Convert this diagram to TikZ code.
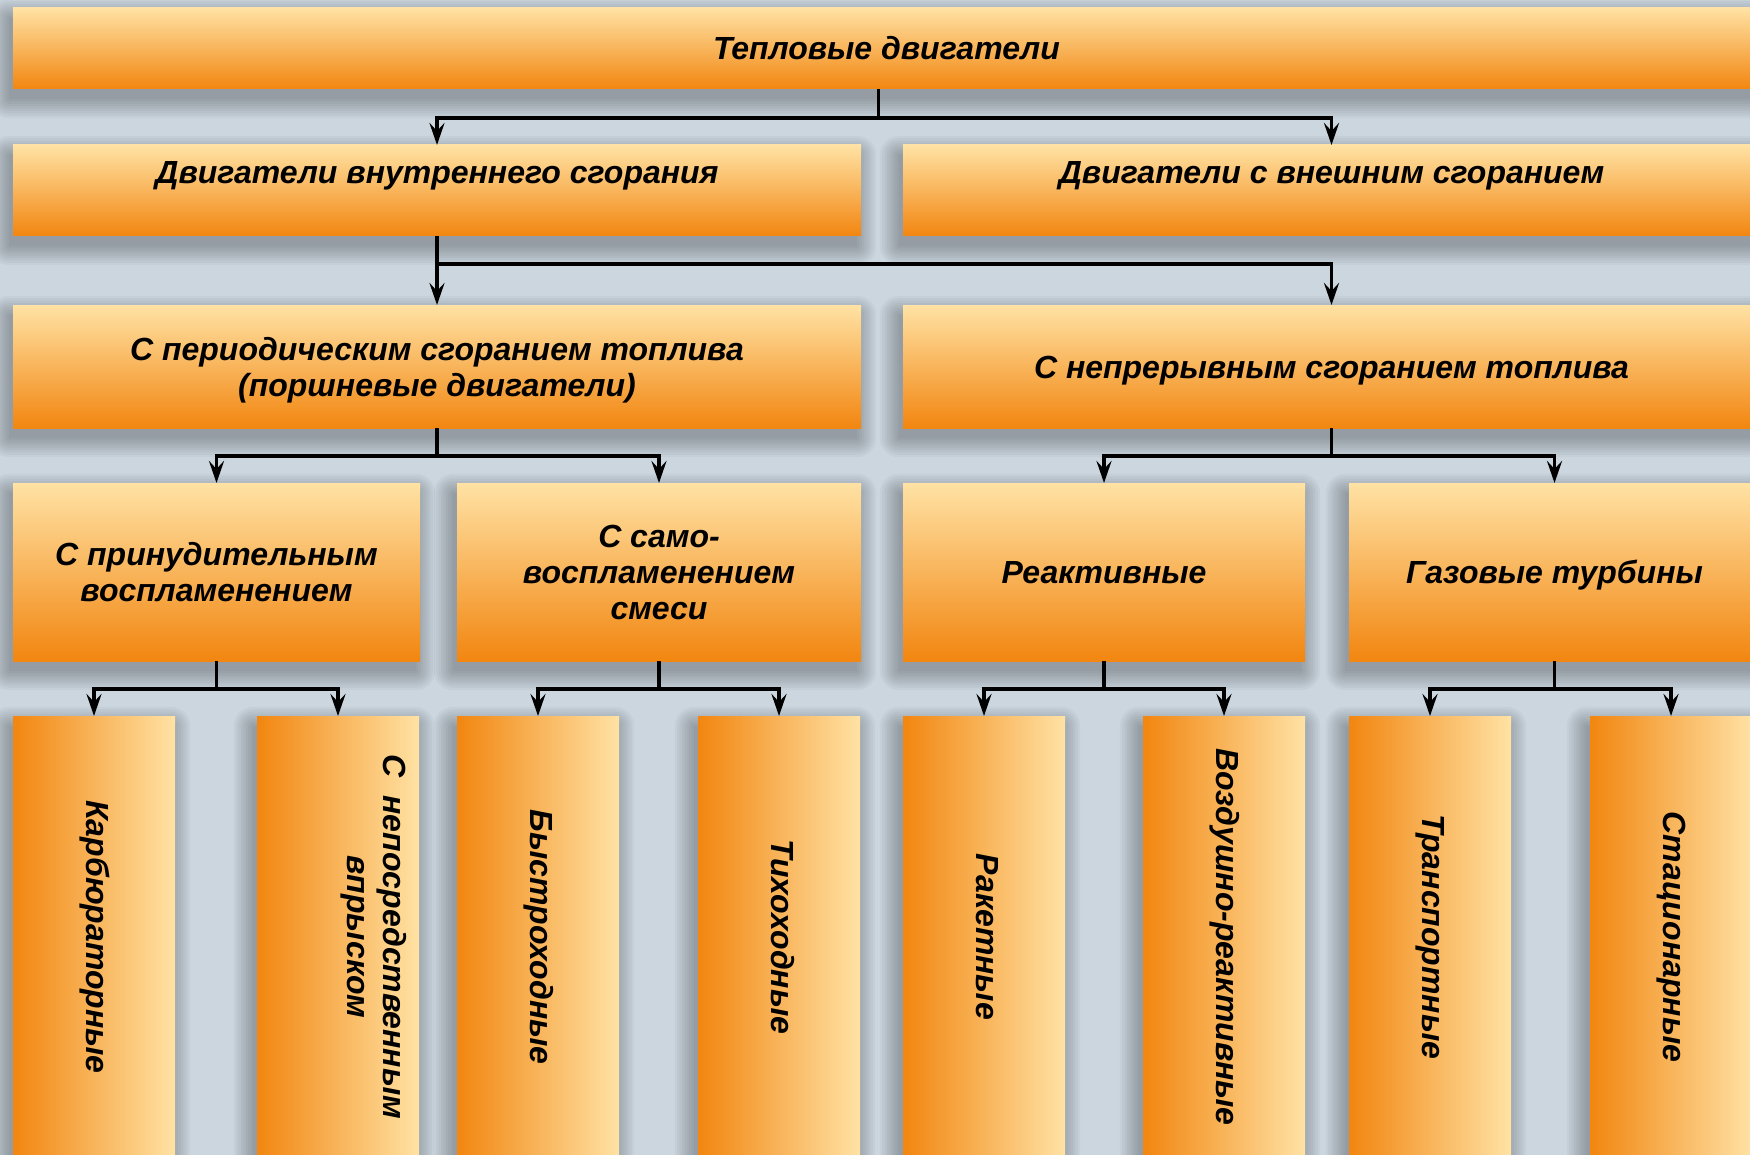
\documentclass[tikz,border=0pt]{standalone}
\usepackage{fontspec}
\usepackage{graphicx}
\setmainfont{Liberation Sans}
\usetikzlibrary{arrows.meta}
\definecolor{bg}{RGB}{203,214,222}
\definecolor{lt}{RGB}{255,226,164}
\definecolor{dk}{RGB}{242,134,16}
\pgfdeclarelayer{shadowlayer}
\pgfsetlayers{shadowlayer,main}
\tikzset{
  box/.style={inner sep=0pt, outer sep=0pt, anchor=north west,
    font=\fontsize{16}{18}\selectfont\bfseries\itshape, align=center},
  hbox/.style={box, top color=lt, bottom color=dk},
  vbox/.style={box, left color=dk, right color=lt, minimum width=81pt, minimum height=221pt},
  conn/.style={line width=1.8pt, black},
  arr/.style={conn, -{Stealth[length=11pt,width=7.5pt,inset=4pt]}},
}
\newcommand{\vtext}[1]{\rotatebox{-90}{\begin{tabular}{@{}c@{}}#1\end{tabular}}}
\newcommand{\lowered}[2]{\raisebox{-#1}[\height][\depth]{\begin{tabular}{@{}c@{}}#2\end{tabular}}}
\begin{document}
\begin{tikzpicture}[x=0.5pt,y=-0.5pt]
\useasboundingbox (0,0) rectangle (1750,1155);
\clip (0,0) rectangle (1750,1155);

% level 1
\node[hbox, minimum width=873.5pt, minimum height=40.5pt] (root) at (13,8) {Тепловые двигатели};
% level 2
\node[hbox, minimum width=424pt, minimum height=45.5pt] (ice) at (13,145) {Двигатели внутреннего сгорания\\\mbox{}};
\node[hbox, minimum width=428.5pt, minimum height=45.5pt] (ece) at (903,145) {Двигатели с внешним сгоранием\\\mbox{}};
% level 3
\node[hbox, minimum width=424pt, minimum height=61.5pt] (per) at (13,305) {\lowered{2.2pt}{С периодическим сгоранием топлива\\(поршневые двигатели)}};
\node[hbox, minimum width=428.5pt, minimum height=61.5pt] (cont) at (903,305) {\lowered{2.4pt}{С непрерывным сгоранием топлива}};
% level 4
\node[hbox, minimum width=203.5pt, minimum height=89pt] (spark) at (13,483) {С принудительным\\воспламенением};
\node[hbox, minimum width=202pt, minimum height=89pt] (self) at (457,483) {С само-\\воспламенением\\смеси};
\node[hbox, minimum width=201pt, minimum height=89pt] (jet) at (903,483) {\lowered{2.3pt}{Реактивные}};
\node[hbox, minimum width=205.5pt, minimum height=89pt] (gt) at (1349,483) {\lowered{2.3pt}{Газовые турбины}};
% level 5
\node[vbox] (carb) at (13,716) {\vtext{Карбюраторные}};
\node[vbox] (inj) at (257,716) {\vtext{С\ \ непосредственным\\впрыском\\[35pt]}};
\node[vbox] (fast) at (457,716) {\vtext{Быстроходные}};
\node[vbox] (slow) at (698,716) {\vtext{Тихоходные}};
\node[vbox] (rock) at (903,716) {\vtext{Ракетные}};
\node[vbox] (air) at (1143,716) {\vtext{Воздушно-реактивные}};
\node[vbox] (trans) at (1349,716) {\vtext{Транспортные}};
\node[vbox] (stat) at (1590,716) {\vtext{Стационарные}};

% background and soft shadows
\begin{pgfonlayer}{shadowlayer}
\fill[bg] (0,0) rectangle (1750,1155);
\foreach \n in {root,ice,ece,per,cont,spark,self,jet,gt,carb,inj,fast,slow,rock,air,trans,stat}{
  \foreach \k in {0,...,8}{
    \pgfmathsetmacro{\e}{\k*1.2}
    \fill[black, opacity=0.033, rounded corners=\e pt]
      ([xshift={(-2-\e)*1pt}, yshift={(-5-\e)*1pt}]\n.south west) rectangle
      ([xshift={(-2+\e)*1pt}, yshift={(-5+\e)*1pt}]\n.north east);
  }
}
\end{pgfonlayer}

% connectors
\draw[conn] ([xshift=-4pt]root.south) -- ([xshift=-4pt]root.south |- 0,118) coordinate (j0);
\draw[arr] (j0) -| (ice.north);
\draw[arr] (j0) -| (ece.north);

\draw[conn] (ice.south) -- (ice.south |- 0,264) coordinate (j1);
\draw[arr] (j1) -| (per.north);
\draw[arr] (j1) -| (cont.north);

\draw[conn] (per.south) -- (per.south |- 0,456) coordinate (j2);
\draw[arr] (j2) -| (spark.north);
\draw[arr] (j2) -| (self.north);

\draw[conn] (cont.south) -- (cont.south |- 0,456) coordinate (j3);
\draw[arr] (j3) -| (jet.north);
\draw[arr] (j3) -| (gt.north);

\draw[conn] (spark.south) -- (spark.south |- 0,689) coordinate (j4);
\draw[arr] (j4) -| (carb.north);
\draw[arr] (j4) -| (inj.north);

\draw[conn] (self.south) -- (self.south |- 0,689) coordinate (j5);
\draw[arr] (j5) -| (fast.north);
\draw[arr] (j5) -| (slow.north);

\draw[conn] (jet.south) -- (jet.south |- 0,689) coordinate (j6);
\draw[arr] (j6) -| (rock.north);
\draw[arr] (j6) -| (air.north);

\draw[conn] (gt.south) -- (gt.south |- 0,689) coordinate (j7);
\draw[arr] (j7) -| (trans.north);
\draw[arr] (j7) -| (stat.north);
\end{tikzpicture}
\end{document}
